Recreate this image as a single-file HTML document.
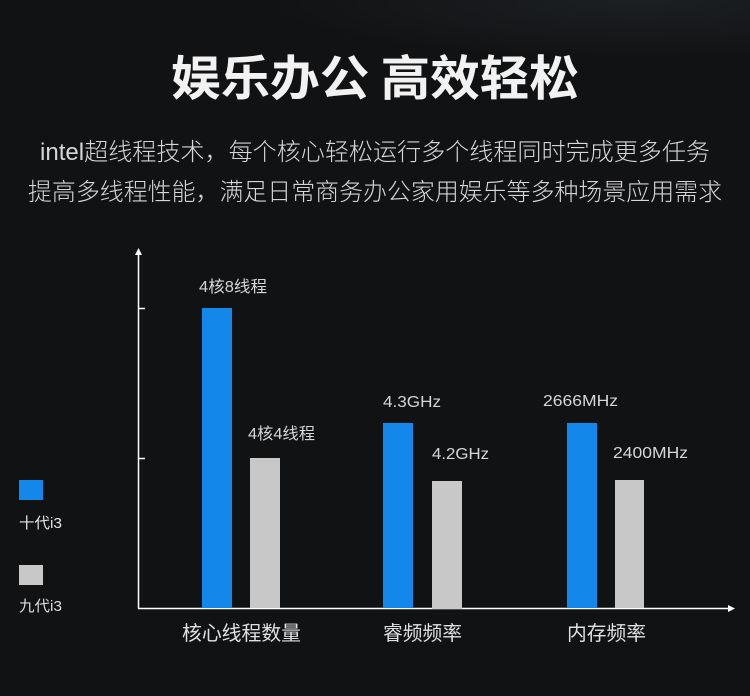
<!DOCTYPE html>
<html><head><meta charset="utf-8"><style>
html,body{margin:0;padding:0;}
body{width:750px;height:696px;overflow:hidden;background:#111214;}
svg{display:block;}
text{font-family:"Liberation Sans","Noto Sans CJK SC",sans-serif;}
</style></head><body>
<svg width="750" height="696" viewBox="0 0 750 696" xmlns="http://www.w3.org/2000/svg">
<defs>
<radialGradient id="g" cx="0.85" cy="0" r="0.5">
<stop offset="0" stop-color="#1c2022"/>
<stop offset="1" stop-color="#111214"/>
</radialGradient>
</defs>
<rect width="750" height="696" fill="#111214"/>
<rect width="750" height="120" fill="url(#g)"/>
<text x="375" y="95" text-anchor="middle" font-size="48" font-weight="bold" fill="#f2f2f2" textLength="408" lengthAdjust="spacingAndGlyphs" style="font-family:'Noto Sans CJK SC',sans-serif">娱乐办公 高效轻松</text>
<text x="375" y="160" text-anchor="middle" font-size="24" fill="#d6d6d6" textLength="670" lengthAdjust="spacingAndGlyphs" style="font-weight:300">intel超线程技术，每个核心轻松运行多个线程同时完成更多任务</text>
<text x="375" y="200" text-anchor="middle" font-size="24" fill="#d6d6d6" textLength="694" lengthAdjust="spacingAndGlyphs" style="font-weight:300">提高多线程性能，满足日常商务办公家用娱乐等多种场景应用需求</text>

<!-- axes -->
<line x1="138.5" y1="254" x2="138.5" y2="608.5" stroke="#fff" stroke-width="1.5"/>
<polygon points="138.5,248 135,255 142,255" fill="#fff"/>
<line x1="138" y1="608.5" x2="728" y2="608.5" stroke="#fff" stroke-width="1.5"/>
<polygon points="735,608.5 728,605 728,612" fill="#fff"/>
<line x1="138" y1="308.5" x2="145" y2="308.5" stroke="#fff" stroke-width="1.5"/>
<line x1="138" y1="458.5" x2="145" y2="458.5" stroke="#fff" stroke-width="1.5"/>

<!-- bars -->
<rect x="202" y="308" width="30" height="300" fill="#1388ea"/>
<rect x="250" y="458" width="30" height="150" fill="#c8c8c8"/>
<rect x="383" y="423" width="30" height="185" fill="#1388ea"/>
<rect x="432" y="481" width="30" height="128" fill="#c8c8c8"/>
<rect x="567" y="423" width="30" height="185" fill="#1388ea"/>
<rect x="615" y="480" width="29" height="128" fill="#c8c8c8"/>

<!-- value labels -->
<g fill="#d6d6d6" font-size="16">
<text x="199" y="292" textLength="68" lengthAdjust="spacingAndGlyphs">4核8线程</text>
<text x="248" y="439" textLength="67" lengthAdjust="spacingAndGlyphs">4核4线程</text>
<text x="383" y="407" textLength="58" lengthAdjust="spacingAndGlyphs">4.3GHz</text>
<text x="432" y="459" textLength="57" lengthAdjust="spacingAndGlyphs">4.2GHz</text>
<text x="543" y="406" textLength="75" lengthAdjust="spacingAndGlyphs">2666MHz</text>
<text x="613" y="458" textLength="75" lengthAdjust="spacingAndGlyphs">2400MHz</text>
</g>

<!-- category labels -->
<g fill="#e0e0e0" font-size="20">
<text x="182" y="640" textLength="119" lengthAdjust="spacingAndGlyphs">核心线程数量</text>
<text x="383" y="640" textLength="79" lengthAdjust="spacingAndGlyphs">睿频频率</text>
<text x="567" y="640" textLength="79" lengthAdjust="spacingAndGlyphs">内存频率</text>
</g>

<!-- legend -->
<rect x="19" y="480" width="24" height="20" fill="#1388ea"/>
<text x="19" y="528" font-size="15" fill="#e6e6e6" textLength="43" lengthAdjust="spacingAndGlyphs">十代i3</text>
<rect x="19" y="565" width="24" height="20" fill="#c8c8c8"/>
<text x="19" y="611" font-size="15" fill="#dcdcdc" textLength="43" lengthAdjust="spacingAndGlyphs">九代i3</text>
</svg>
</body></html>
